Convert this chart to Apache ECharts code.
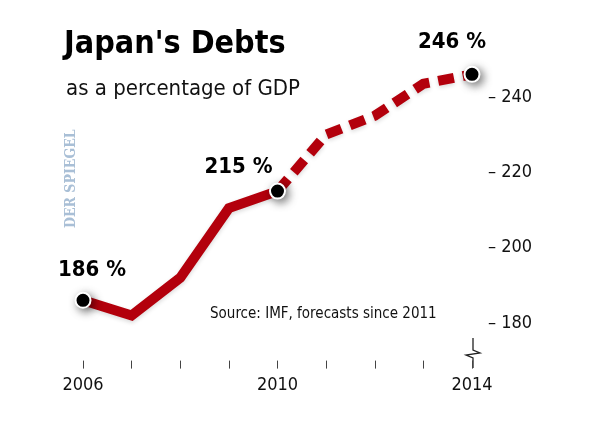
<!DOCTYPE html>
<html><head><meta charset="utf-8">
<script src="https://cdn.jsdelivr.net/npm/echarts@6/dist/echarts.min.js"></script>
<style>html,body{margin:0;padding:0;background:#fff}#c{width:600px;height:424px}</style>
</head><body><div id="c"></div>
<script>
var years = [2006, 2007, 2008, 2009, 2010, 2011, 2012, 2013, 2014];
var debt = [186, 182, 192, 210.5, 215, 230, 235, 243.5, 246];
var highlightYears = [2006, 2010, 2014];
var yTicks = [180, 200, 220, 240];
var xLabelYears = [2006, 2010, 2014];
var FONT = '"DejaVu Sans Condensed", "DejaVu Sans", sans-serif';
var RED = '#b3000c';

var actual = [], forecast = [], marks = [];
years.forEach(function (y, i) {
  if (y <= 2010) actual.push([y, debt[i]]);
  if (y >= 2010) forecast.push([y, debt[i]]);
  if (highlightYears.indexOf(y) >= 0) marks.push([y, debt[i]]);
});

var chart = echarts.init(document.getElementById('c'), null, {renderer: 'canvas'});
chart.setOption({
  animation: false,
  backgroundColor: '#fff',
  title: [
    {text: "Japan's Debts", left: 59, top: 24, textStyle: {fontFamily: FONT, fontWeight: 'bold', fontSize: 32, color: '#000'}},
    {text: 'as a percentage of GDP', left: 61, top: 73, textStyle: {fontFamily: FONT, fontWeight: 'normal', fontSize: 22, color: '#111'}}
  ],
  grid: {left: 83, right: 128, top: 59.3, height: 301.3},
  xAxis: {
    type: 'value', min: 2006, max: 2014, interval: 1,
    axisLine: {show: false},
    splitLine: {show: false},
    axisTick: {show: true, length: 8, lineStyle: {color: '#444', width: 1}},
    axisLabel: {
      margin: 16, fontFamily: FONT, fontSize: 18, color: '#111',
      formatter: function (v) { return xLabelYears.indexOf(v) >= 0 ? String(v) : ''; }
    }
  },
  yAxis: {
    type: 'value', position: 'right', min: 170, max: 250, interval: 10,
    axisLine: {show: false}, axisTick: {show: false}, splitLine: {show: false},
    axisLabel: {
      margin: 16, fontFamily: FONT, fontSize: 18, color: '#111',
      formatter: function (v) { return yTicks.indexOf(v) >= 0 ? '– ' + v : ''; }
    }
  },
  series: [
    {type: 'line', data: actual, symbol: 'none', z: 2,
     lineStyle: {color: RED, width: 10, join: 'miter', cap: 'butt', shadowBlur: 4, shadowColor: 'rgba(0,0,0,0.15)', shadowOffsetY: 2}},
    {type: 'line', data: forecast, symbol: 'none', z: 2,
     lineStyle: {color: RED, width: 10, type: [16, 9], join: 'miter', cap: 'butt', shadowBlur: 4, shadowColor: 'rgba(0,0,0,0.15)', shadowOffsetY: 2}},
    {type: 'scatter', data: marks, symbol: 'circle', symbolSize: 15, z: 5,
     itemStyle: {color: '#000', opacity: 1, borderColor: '#fff', borderWidth: 2, shadowBlur: 8, shadowColor: 'rgba(0,0,0,0.5)', shadowOffsetX: 3, shadowOffsetY: 3},
     label: {
       show: true, fontFamily: FONT, fontWeight: 'bold', fontSize: 22, color: '#000',
       textShadowBlur: 0, textShadowColor: 'transparent', textBorderWidth: 0,
       formatter: function (p) { return Math.round(p.value[1]) + ' %'; },
       position: 'top'
     },
     labelLayout: function (p) {
       var i = p.dataIndex;
       var offs = [[9, -6], [-39, 1], [-20, -8]];
       return {dx: offs[i][0], dy: offs[i][1]};
     }
    }
  ],
  graphic: [
    {type: 'text', rotation: Math.PI / 2, x: 64, y: 228,
     style: {text: 'DER SPIEGEL', fontFamily: '"DejaVu Serif Condensed", "DejaVu Serif", serif', fontWeight: 'bold', fontSize: 14, fill: '#a9bfd6'}},
    {type: 'text', left: 210, top: 307,
     style: {text: 'Source: IMF, forecasts since 2011', fontFamily: FONT, fontSize: 15, fill: '#111'}},
    {type: 'polyline', shape: {points: [[473, 338], [473, 350], [480, 353], [466, 355], [473, 358], [473, 368]]},
     style: {stroke: '#222', lineWidth: 1.3, fill: null}}
  ]
});
</script></body></html>
